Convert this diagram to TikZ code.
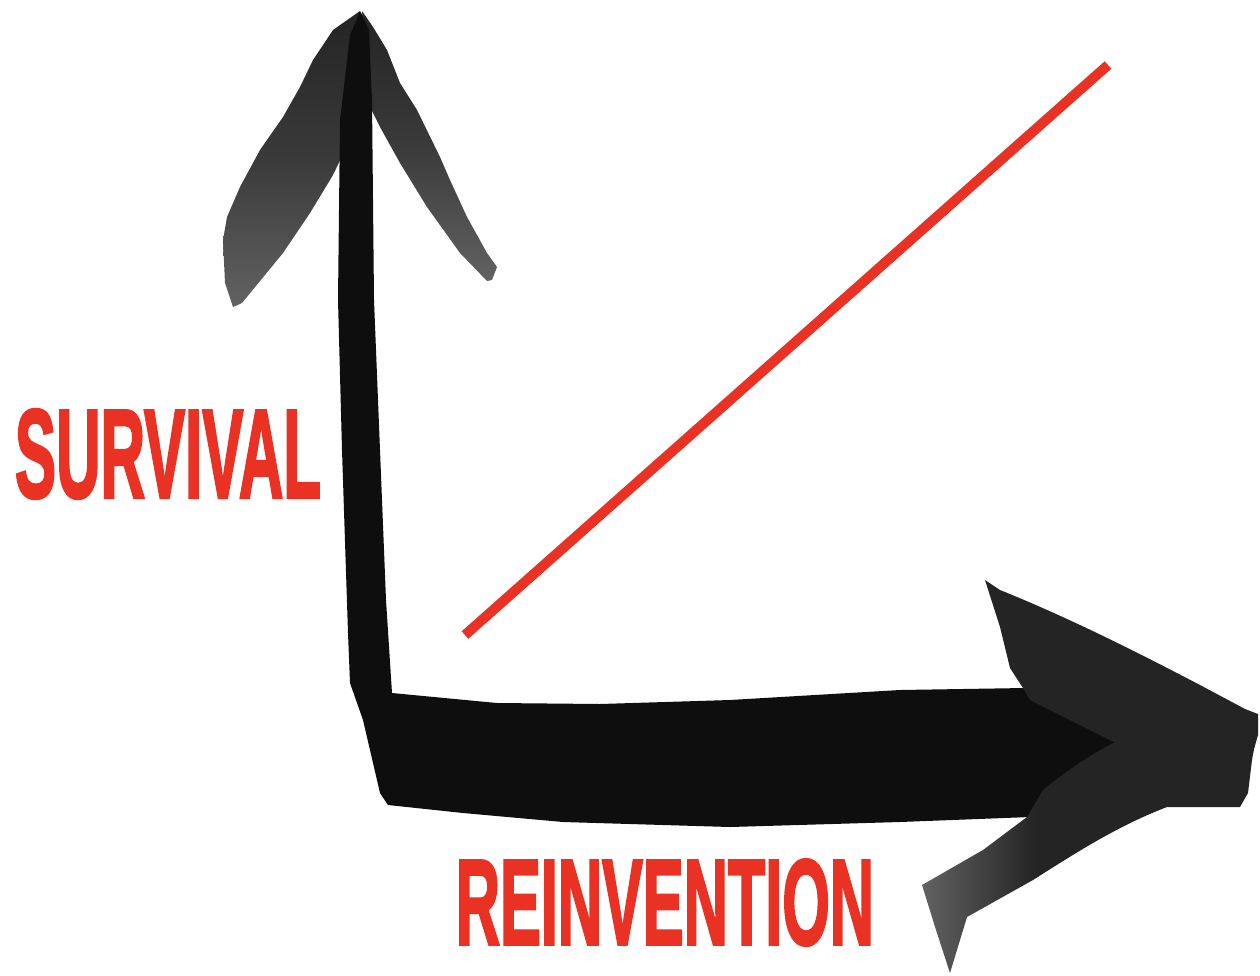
\documentclass[tikz,border=0pt]{standalone}
\usepackage{fontspec}
\newfontfamily\lblfont{Liberation Sans}[BoldFeatures={FakeBold=2.5}]
\usepackage{graphicx}
\definecolor{axisred}{RGB}{233,50,35}
\definecolor{ink}{RGB}{14,14,14}
\definecolor{inkb}{RGB}{36,36,36}
\definecolor{inkm}{RGB}{58,58,58}
\definecolor{inkl}{RGB}{98,98,98}
\pgfdeclareverticalshading{barbdown}{100bp}{color(0bp)=(inkl); color(25bp)=(inkl); color(50bp)=(inkm); color(75bp)=(inkb); color(100bp)=(inkb)}
\pgfdeclarehorizontalshading{barbleft}{100bp}{color(0bp)=(inkl); color(25bp)=(inkl); color(42bp)=(inkb); color(100bp)=(inkb)}
\tikzset{
  inkfill/.style={fill=ink, draw=none},
  barbfill/.style={draw=none},
  redline/.style={draw=axisred, line width=10pt, line cap=butt},
  axislabel/.style={text=axisred, inner sep=0pt, font=\lblfont\bfseries}
}
\begin{document}
\begin{tikzpicture}[x=1pt,y=-1pt]
\useasboundingbox (0,0) rectangle (1260,975);
\fill[white] (0,0) rectangle (1260,975);

% left barb of vertical arrow
\path[barbfill, shading=barbdown]
  (360,11) -- (333,30) -- (313,60) -- (300,87) -- (283,117)
  -- (260,150) -- (240,187) -- (227,217) -- (223,240) -- (225,283)
  -- (233,307) -- (242,303) -- (283,253) -- (310,213) -- (333,175)
  -- (345,150) -- (352,80) -- (364,18) -- cycle;

% right barb of vertical arrow
\path[barbfill, shading=barbdown]
  (362,11) -- (373,27) -- (387,50) -- (400,83) -- (417,110)
  -- (440,157) -- (450,180) -- (467,217) -- (487,253) -- (497,267)
  -- (492,280) -- (487,281) -- (460,253) -- (427,207) -- (400,163)
  -- (380,127) -- (370,107) -- (366,40) -- cycle;

% L-shaped main stroke (vertical shaft + horizontal shaft)
\path[inkfill]
  (360,12) -- (350,35) -- (340,120) -- (338,300) -- (342,450) -- (348,633)
  -- (350,683) -- (363,720) -- (380,793) -- (388,805)
  -- (463,813) -- (563,822) -- (730,827) -- (900,822)
  -- (1030,817) -- (1150,800) -- (1150,700) -- (1025,688)
  -- (900,690) -- (730,700) -- (600,704) -- (497,703) -- (392,693)
  -- (386,600) -- (380,450) -- (374,300) -- (372,100) -- (369,30)
  -- cycle;

% upper barb of horizontal arrow
\path[barbfill, fill=inkb]
  (985,580) -- (1000,590) .. controls (1067,617) and (1133,650) .. (1200,685)
  -- (1245,709) -- (1258,714) -- (1258,735) -- (1248,770)
  -- (1120,745) -- (1030,700) -- (1023,688)
  -- (1010,668) -- (1000,627) -- cycle;

% lower barb of horizontal arrow
\path[barbfill, shading=barbleft]
  (1247,712) -- (1258,725) -- (1252,760) -- (1248,793) -- (1240,807)
  -- (1167,807) .. controls (1120,825) and (1080,850) .. (1033,880)
  -- (967,917) -- (950,973) -- (936,930) -- (922,885)
  -- (983,850) -- (1027,817) -- (1043,790)
  .. controls (1080,760) and (1120,735) .. (1160,725) -- cycle;

% red trend line
\coordinate (lowend) at (465,635);
\coordinate (highend) at (1108,65);
\draw[redline] (lowend) -- (highend);

% axis labels
\node[axislabel] (survival) at (168,454)
  {\resizebox{306pt}{88pt}{SURVIVAL}};
\node[axislabel] (reinvention) at (665,902.5)
  {\resizebox{418pt}{85pt}{REINVENTION}};
\end{tikzpicture}
\end{document}
